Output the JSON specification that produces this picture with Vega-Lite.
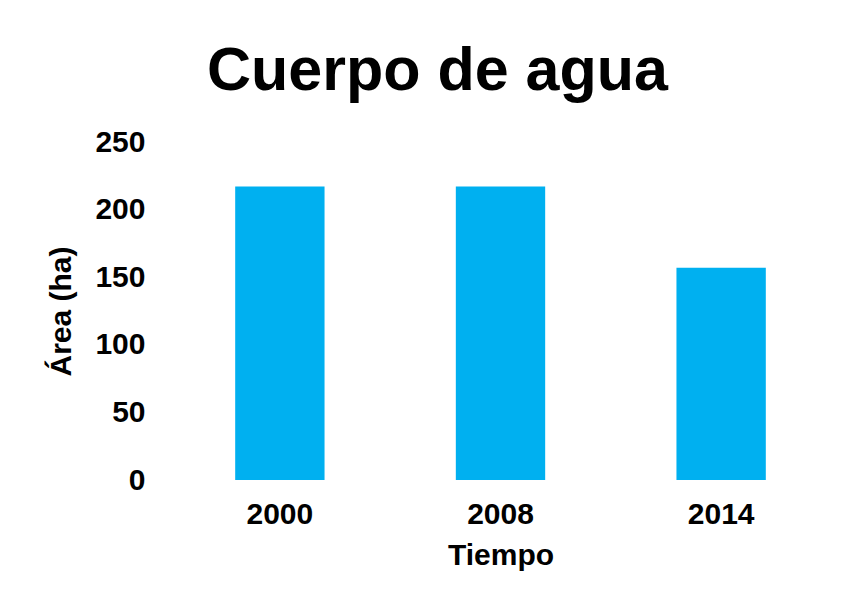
{
  "$schema": "https://vega.github.io/schema/vega-lite/v6.json",
  "width": 663,
  "height": 338,
  "autosize": {"type": "none"},
  "padding": {"left": 169, "top": 142, "right": 27, "bottom": 128},
  "background": "white",
  "title": {
    "text": "Cuerpo de agua",
    "font": "Liberation Sans",
    "fontSize": 61,
    "fontWeight": "bold",
    "color": "#000000",
    "anchor": "middle",
    "frame": "group",
    "dx": -63,
    "offset": 24
  },
  "data": {
    "values": [
      {"Tiempo": "2000", "Area": 217},
      {"Tiempo": "2008", "Area": 217},
      {"Tiempo": "2014", "Area": 157}
    ]
  },
  "mark": {"type": "bar", "color": "#00B0F0"},
  "encoding": {
    "x": {
      "field": "Tiempo",
      "type": "nominal",
      "scale": {"paddingInner": 0.595, "paddingOuter": 0.3},
      "axis": {
        "title": "Tiempo",
        "labelAngle": 0,
        "domain": false,
        "ticks": false,
        "tickSize": 0,
        "labelPadding": 19,
        "titlePadding": 11,
        "labelFont": "Liberation Sans",
        "labelFontSize": 30,
        "labelFontWeight": "bold",
        "labelColor": "#000000",
        "titleFont": "Liberation Sans",
        "titleFontSize": 30,
        "titleFontWeight": "bold",
        "titleColor": "#000000"
      }
    },
    "y": {
      "field": "Area",
      "type": "quantitative",
      "scale": {"domain": [0, 250]},
      "axis": {
        "title": "Área (ha)",
        "values": [0, 50, 100, 150, 200, 250],
        "grid": false,
        "domain": false,
        "ticks": false,
        "tickSize": 0,
        "labelPadding": 24,
        "titlePadding": 18,
        "labelFont": "Liberation Sans",
        "labelFontSize": 30,
        "labelFontWeight": "bold",
        "labelColor": "#000000",
        "titleFont": "Liberation Sans",
        "titleFontSize": 30,
        "titleFontWeight": "bold",
        "titleColor": "#000000"
      }
    }
  },
  "config": {"view": {"stroke": null}}
}
